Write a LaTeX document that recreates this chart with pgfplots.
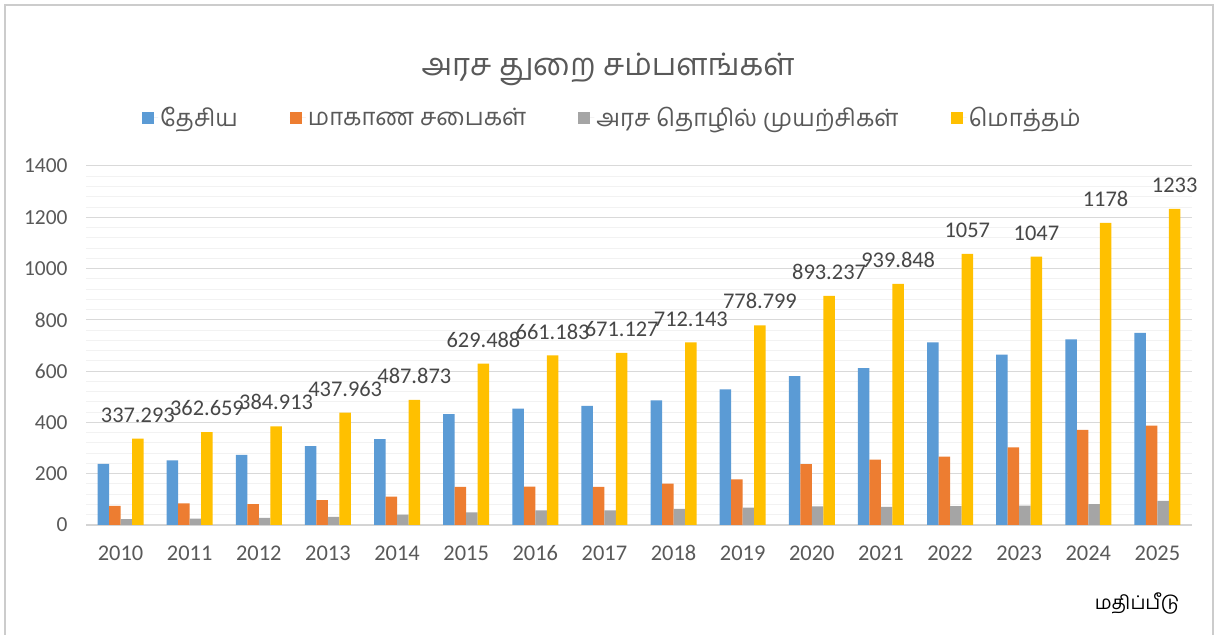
\documentclass[border=0pt]{standalone}
\usepackage{fontspec}
\setmainfont{Carlito}
\newfontfamily\tamil[Script=Tamil]{Hind Madurai}
\usepackage{pgfplots}
\pgfplotsset{compat=1.18}
\usepackage{pgfplotstable}
\definecolor{cBlue}{HTML}{5B9BD5}
\definecolor{cOrange}{HTML}{ED7D31}
\definecolor{cGray}{HTML}{A5A5A5}
\definecolor{cYellow}{HTML}{FFC000}
\definecolor{txt}{HTML}{595959}
\pgfplotstableread{
x nat prov soe tot lab
0 238 75 23 337.293 337.293
1 252 84 25 362.659 362.659
2 273 81 28 384.913 384.913
3 308 97 32 437.963 437.963
4 335 111 40 487.873 487.873
5 432 149 49 629.488 629.488
6 454 150 57 661.183 661.183
7 465 149 57 671.127 671.127
8 486 161 63 712.143 712.143
9 529 178 68 778.799 778.799
10 581 237 73 893.237 893.237
11 612 255 71 939.848 939.848
12 712 267 74 1057 1057
13 664 303 76 1047 1047
14 724 371 81 1178 1178
15 749 388 94 1233 1233
}\data
\begin{document}
\begin{tikzpicture}
\useasboundingbox (0bp,0bp) rectangle (1215bp,635bp);
\fill[white] (0bp,0bp) rectangle (1215bp,635bp);
\draw[black!20, line width=1.5bp] (5bp,-10bp) -- (5bp,630bp) -- (1213bp,630bp) -- (1213bp,-10bp);
\node[text=txt, font=\fontsize{31}{34}\selectfont\tamil] at (608bp,566bp) {அரச துறை சம்பளங்கள்};
\node[text=black, font=\fontsize{19}{22}\selectfont\tamil] at (1137bp,32bp) {மதிப்பீடு};
\begin{axis}[
  at={(86bp,110bp)}, anchor=south west, scale only axis,
  width=1106bp, height=359bp, clip=false,
  ybar=0pt, bar width=11.5bp,
  xmin=-0.5, xmax=15.5, ymin=0, ymax=1400,
  xtick={0,...,15},
  xticklabels={2010,2011,2012,2013,2014,2015,2016,2017,2018,2019,2020,2021,2022,2023,2024,2025},
  ytick={0,200,...,1400}, minor y tick num=4,
  ymajorgrids, yminorgrids,
  major grid style={draw=black!15, line width=1bp},
  minor grid style={draw=black!5, line width=1bp},
  axis x line*=bottom, axis y line*=left,
  y axis line style={draw=none},
  x axis line style={draw=black!17, line width=1.8bp, -},
  major tick length=0pt, minor tick length=0pt,
  tick style={draw=none},
  /pgf/number format/assume math mode=true,
  /pgf/number format/1000 sep={},
  yticklabel style={font=\fontsize{21.5}{24}\selectfont, text=txt, xshift=-15bp},
  xticklabel style={font=\fontsize{22.5}{26}\selectfont, text=txt, yshift=-17bp},
  legend columns=4,
  legend style={draw=none, fill=none, at={(axis description cs:0.476,1.134)}, anchor=center,
    font=\fontsize{24}{28}\selectfont\tamil, text=txt,
    /tikz/every even column/.append style={column sep=50bp}},
  legend image code/.code={\fill[#1] (0bp,-6bp) rectangle (12bp,6bp); \path (0bp,0bp) -- (16bp,0bp);},
]
\addplot[fill=cBlue, draw=none] table[x=x, y=nat] {\data};
\addplot[fill=cOrange, draw=none] table[x=x, y=prov] {\data};
\addplot[fill=cGray, draw=none] table[x=x, y=soe] {\data};
\addplot[fill=cYellow, draw=none,
  nodes near coords, point meta=explicit symbolic,
  every node near coord/.append style={font=\fontsize{22.5}{26}\selectfont, text=black!72, inner sep=0pt, yshift=16bp}]
  table[x=x, y=tot, meta=lab] {\data};
\legend{தேசிய, மாகாண சபைகள், அரச தொழில் முயற்சிகள், மொத்தம்}
\end{axis}
\end{tikzpicture}
\end{document}
